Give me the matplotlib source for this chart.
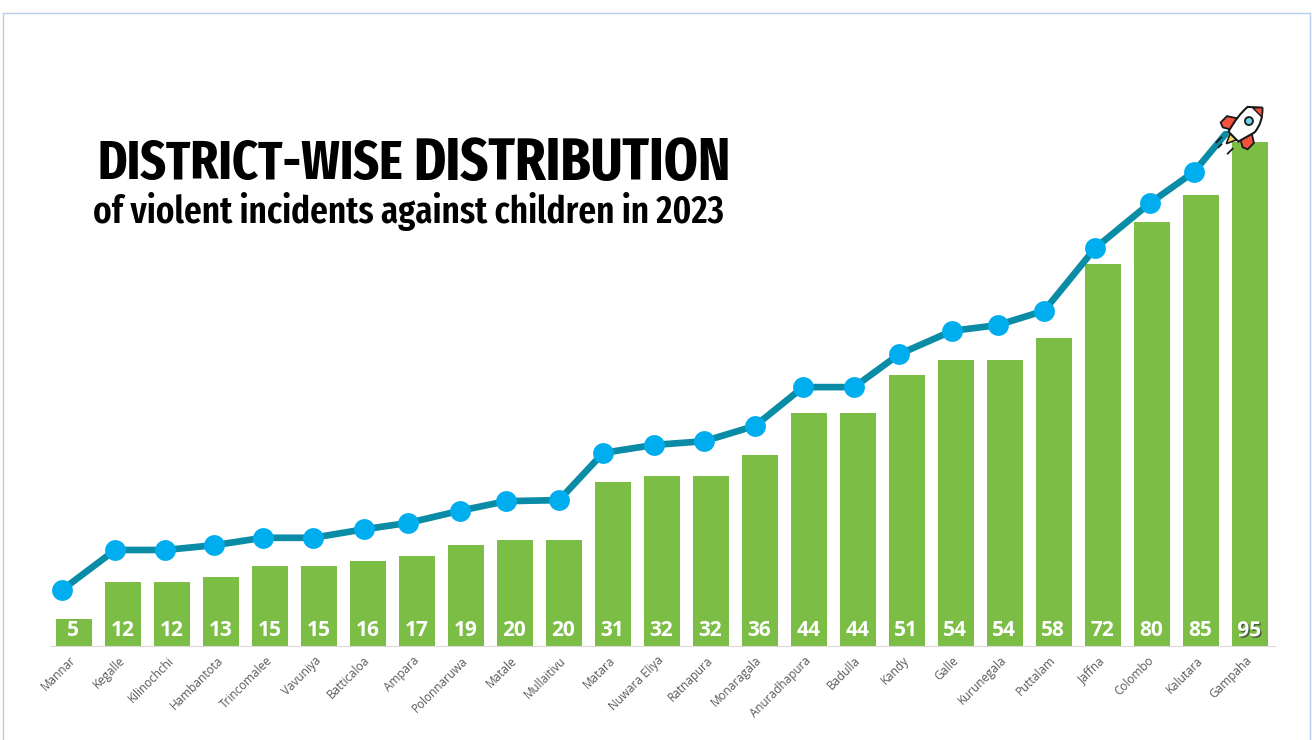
import matplotlib
matplotlib.use("Agg")
import matplotlib.pyplot as plt
import matplotlib.patheffects as pe
from matplotlib.lines import Line2D
from matplotlib.patches import Circle, PathPatch, Polygon
from matplotlib.path import Path
from matplotlib.transforms import Affine2D

districts = ["Mannar", "Kegalle", "Kilinochchi", "Hambantota", "Trincomalee", "Vavuniya",
             "Batticaloa", "Ampara", "Polonnaruwa", "Matale", "Mullaitivu", "Matara",
             "Nuwara Eliya", "Ratnapura", "Monaragala", "Anuradhapura", "Badulla", "Kandy",
             "Galle", "Kurunegala", "Puttalam", "Jaffna", "Colombo", "Kalutara", "Gampaha"]
incidents = [5, 12, 12, 13, 15, 15, 16, 17, 19, 20, 20, 31, 32, 32, 36, 44, 44, 51, 54, 54, 58, 72, 80, 85, 95]

# the line is a hand placed overlay above the bars, so it has its own positions and heights
line_pos = [-0.24, 0.84, 1.86, 2.86, 3.86, 4.88, 5.92, 6.82, 7.88, 8.82, 9.90, 10.80,
            11.84, 12.86, 13.90, 14.88, 15.92, 16.84, 17.92, 18.86, 19.80, 20.84, 21.96, 22.86, 23.50]
line_vals = [10.6, 18.1, 18.1, 19.0, 20.4, 20.4, 22.0, 23.2, 25.5, 27.3, 27.5, 36.4,
             37.9, 38.6, 41.5, 48.8, 48.8, 55.0, 59.4, 60.5, 63.2, 75.0, 83.5, 89.4, 96.5]

BAR = "#7cbd45"
LINE = "#0a8ba6"
DOT = "#00aeef"
EDGE = "#b7cfe8"

W, H = 1312, 740
fig = plt.figure(figsize=(W / 100, H / 100), dpi=100)
ax = fig.add_axes([50 / W, (H - 646) / H, 1225 / W, 596 / H])

#--bars
x = list(range(len(districts)))
ax.bar(x, incidents, width=36 / 49, color=BAR, zorder=2)
ax.set_xlim((50 - 74) / 49, (1275 - 74) / 49)
ax.set_ylim(0, 596 / 5.305)

for i, v in zip(x, incidents):
    label = ax.annotate(str(v), (i, 0), xytext=(-0.5, 11), textcoords="offset points", ha="center", va="center",
                        color="white", fontsize=15, fontweight="bold", family="Open Sans", zorder=5)
    if v == incidents[-1]:
        label.set_path_effects([pe.SimplePatchShadow(offset=(1, -1), shadow_rgbFace="#333333", alpha=0.7), pe.Normal()])

#--line and dots, the last point sits under the rocket
ax.plot(line_pos, line_vals, color=LINE, lw=4.8, zorder=3, clip_on=False, solid_capstyle="round")
ax.plot(line_pos[:-1], line_vals[:-1], "o", color=DOT, ms=15, mew=0, zorder=4, clip_on=False)

#--axis
for s in ["top", "left", "right"]:
    ax.spines[s].set_visible(False)
ax.spines["bottom"].set_color("#d9d9d9")
ax.set_yticks([])
ax.set_xticks(x)
ax.set_xticklabels(districts, rotation=45, ha="right", va="center", rotation_mode="anchor",
                   fontsize=8.5, color="#595959", family="Open Sans")
ax.tick_params(axis="x", length=0, pad=9)

#--title pieces
condensed = ["Fira Sans Extra Condensed", "Fira Sans Condensed", "Roboto", "DejaVu Sans"]
fig.text(98 / W, 1 - 179 / H, "DISTRICT-WISE", family=condensed, fontweight="bold", fontsize=39, color="black", va="baseline")
fig.text(413 / W, 1 - 180 / H, "DISTRIBUTION", family=condensed, fontweight="bold", fontsize=42.6, color="black", va="baseline")
fig.text(93 / W, 1 - 223 / H, "of violent incidents against children in 2023", family=condensed,
         fontweight="semibold", fontsize=27.4, color="black", va="baseline")

#--picture frame
for xs, ys in [((3, 3), (740, 12.5)), ((3, 1310), (12.5, 12.5)), ((1310, 1310), (12.5, 740))]:
    fig.add_artist(Line2D([a / W for a in xs], [1 - b / H for b in ys], color=EDGE, lw=1))

#--rocket icon, drawn pointing up around (0, 0) then turned and moved onto the line end
rocket = Affine2D().rotate_deg(-45).translate(1244, H - 126).scale(1 / W, 1 / H) + fig.transFigure
INK = "#1a1a1a"
RED = "#f4513f"

def add(patch):
    patch.set_transform(rocket)
    fig.add_artist(patch)

add(Polygon([(-8, 2), (-19, -5), (-19, -14), (-14, -16), (-7, -12)], closed=True, fc=RED, ec=INK, lw=1.3))
add(Polygon([(8, 2), (19, -5), (19, -14), (14, -16), (7, -12)], closed=True, fc=RED, ec=INK, lw=1.3))
add(Polygon([(-4.5, -15), (4.5, -15), (0, -25)], closed=True, fc="#f7d35c", ec=INK, lw=1.2))
body = Path([(0, 26), (11, 16), (12, 3), (7, -15), (-7, -15), (-12, 3), (-11, 16), (0, 26)],
            [Path.MOVETO, Path.CURVE3, Path.CURVE3, Path.LINETO, Path.LINETO, Path.CURVE3, Path.CURVE3, Path.LINETO])
add(PathPatch(body, fc="white", ec=INK, lw=1.5))
add(Polygon([(0, 26), (6.5, 19), (-6.5, 19)], closed=True, fc=RED, ec=INK, lw=1))
add(Circle((0, 7), 4, fc="#6fd0ea", ec=INK, lw=1.3))
for lx, ly0, ly1 in [(-8, -24, -31), (-3, -29, -33), (8, -24, -31)]:
    add(Line2D([lx, lx], [ly0, ly1], color=INK, lw=1.3))

fig.savefig("out.png", dpi=100)
